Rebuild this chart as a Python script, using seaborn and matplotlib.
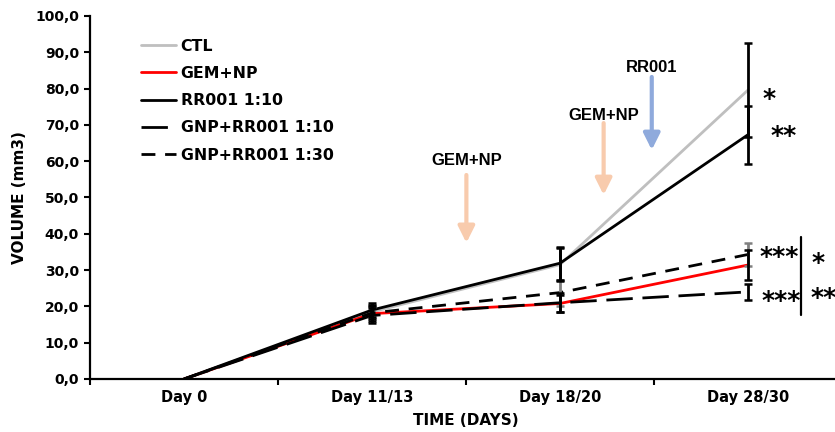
import matplotlib
matplotlib.use('Agg')
import pandas as pd
import matplotlib.pyplot as plt
from matplotlib.ticker import FixedLocator, FuncFormatter
import seaborn as sns

days = ['Day 0', 'Day 11/13', 'Day 18/20', 'Day 28/30']
groups = ['CTL', 'GEM+NP', 'RR001 1:10', 'GNP+RR001 1:10', 'GNP+RR001 1:30']

# mean tumour volume (mm3) per group
ctl = [0.0, 18.5, 31.5, 79.6]
gem_np = [0.0, 18.0, 20.8, 31.4]
rr001 = [0.0, 19.0, 31.9, 67.3]
gnp_rr001_10 = [0.0, 17.5, 21.0, 24.0]
gnp_rr001_30 = [0.0, 18.2, 23.8, 34.3]

# error bars
ctl_err = [0.0, 2.0, 4.5, 13.0]
gem_np_err = [0.0, 2.0, 2.4, 4.0]
rr001_err = [0.0, 1.9, 4.5, 8.0]
gnp_rr001_10_err = [0.0, 2.1, 2.6, 2.2]
gnp_rr001_30_err = [0.0, 1.5, 3.6, 3.3]

means = [ctl, gem_np, rr001, gnp_rr001_10, gnp_rr001_30]
errs = [ctl_err, gem_np_err, rr001_err, gnp_rr001_10_err, gnp_rr001_30_err]

colors = {'CTL': '#bfbfbf', 'GEM+NP': '#ff0000', 'RR001 1:10': '#000000',
          'GNP+RR001 1:10': '#000000', 'GNP+RR001 1:30': '#000000'}
dashes = {'CTL': '', 'GEM+NP': '', 'RR001 1:10': '',
          'GNP+RR001 1:10': (9.5, 3.5), 'GNP+RR001 1:30': (5, 3.5)}
err_colors = ['#000000', '#000000', '#000000', '#000000', '#808080']
err_z = [5, 5, 5, 5, 4]

rows = []
for g, m in zip(groups, means):
    for i, v in enumerate(m):
        rows.append({'day': i, 'group': g, 'volume': v})
df = pd.DataFrame(rows)

sns.set_theme(style='white')
plt.rcParams['font.family'] = ['DejaVu Sans']
plt.rcParams['font.weight'] = 'bold'
plt.rcParams['text.color'] = 'black'
plt.rcParams['axes.labelcolor'] = 'black'
plt.rcParams['xtick.color'] = 'black'
plt.rcParams['ytick.color'] = 'black'

fig = plt.figure(figsize=(8.35, 4.32), dpi=100)
ax = fig.add_axes([0.1078, 0.1227, 0.9006, 0.8403])

sns.lineplot(data=df, x='day', y='volume', hue='group', style='group',
             hue_order=groups, style_order=groups, palette=colors,
             dashes=dashes, linewidth=2.0, ax=ax)

handles, labels = ax.get_legend_handles_labels()
for h in handles:
    h.set_linewidth(2.0)
ax.legend(handles, labels, loc='upper left', bbox_to_anchor=(0.06, 0.955),
          frameon=False, fontsize=11.3, handlelength=2.2, handletextpad=0.3,
          labelspacing=0.78, borderaxespad=0, labelcolor='black')

for m, e, c, z in zip(means, errs, err_colors, err_z):
    ax.errorbar([1, 2, 3], m[1:], yerr=e[1:], fmt='none', ecolor=c,
                elinewidth=2.0, capsize=2.6, capthick=1.8, zorder=z)

ax.set_xlim(-0.5, 3.5)
ax.set_ylim(0, 100)
ax.yaxis.set_major_locator(FixedLocator(range(0, 101, 10)))
ax.yaxis.set_major_formatter(FuncFormatter(lambda v, p: f'{v:.1f}'.replace('.', ',')))
ax.xaxis.set_major_locator(FixedLocator([-0.5, 0.5, 1.5, 2.5, 3.5]))
ax.xaxis.set_major_formatter(FuncFormatter(lambda v, p: ''))
ax.xaxis.set_minor_locator(FixedLocator(range(len(days))))
ax.set_xticklabels(days, minor=True)
ax.tick_params(axis='x', which='minor', length=0, labelsize=10.5, pad=8)
ax.tick_params(axis='x', which='major', length=4, width=1.5, color='black', direction='out')
ax.tick_params(axis='y', length=4, width=1.5, color='black', direction='out', labelsize=10, pad=4)
ax.tick_params(bottom=True, left=True)
for lab in ax.get_xticklabels(minor=True) + ax.get_yticklabels():
    lab.set_fontweight('bold')

for s in ['top', 'right']:
    ax.spines[s].set_visible(False)
for s in ['left', 'bottom']:
    ax.spines[s].set_color('black')
    ax.spines[s].set_linewidth(1.6)

ax.set_xlabel('TIME (DAYS)', fontsize=11, fontweight='bold', labelpad=6)
ax.set_ylabel('VOLUME (mm3)', fontsize=11, fontweight='bold', labelpad=6)

# treatment arrows
arrow_font = dict(family='Liberation Sans', fontsize=12, fontweight='bold',
                  ha='center', va='center')
peach = '#f8cbad'
blue = '#8faadc'
for x, ytxt, y0, y1, txt, col in [(1.502, 60.3, 56.2, 37.5, 'GEM+NP', peach),
                                   (2.232, 72.7, 70.5, 50.7, 'GEM+NP', peach),
                                   (2.488, 85.7, 83.2, 63.1, 'RR001', blue)]:
    ax.text(x, ytxt, txt, **arrow_font)
    ax.annotate('', xy=(x, y1), xytext=(x, y0),
                arrowprops=dict(arrowstyle='-|>,head_width=0.35,head_length=0.7',
                                color=col, lw=3, mutation_scale=14, shrinkA=0, shrinkB=0))

# significance marks
star_font = dict(family='DejaVu Sans', fontsize=18, fontweight='bold',
                 ha='center', va='center')
ax.text(3.11, 77.0, '*', **star_font)
ax.text(3.19, 67.0, '**', **star_font)
ax.text(3.165, 33.6, '***', **star_font)
ax.text(3.175, 21.6, '***', **star_font)
ax.text(3.37, 32.0, '*', **star_font)
ax.text(3.40, 22.4, '**', **star_font)
ax.plot([3.28, 3.28], [17.6, 39.1], color='black', lw=1.6)

fig.savefig('out.png', dpi=100)
